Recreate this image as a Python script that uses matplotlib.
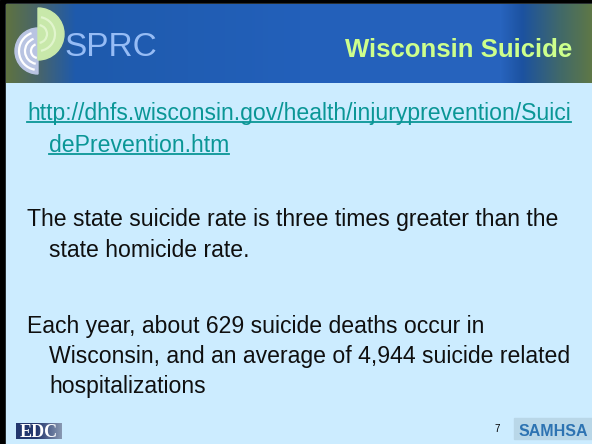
import matplotlib
matplotlib.use('Agg')
import matplotlib.pyplot as plt
import numpy as np
from matplotlib.patches import Rectangle, Wedge, Arc

plt.rcParams['font.family'] = ['Liberation Sans', 'DejaVu Sans']

# slide content
title = 'Wisconsin Suicide'
logo_text = 'SPRC'
link_lines = ['http://dhfs.wisconsin.gov/health/injuryprevention/Suici',
              'dePrevention.htm']
para1 = ['The state suicide rate is three times greater than the',
         'state homicide rate.']
para2 = ['Each year, about 629 suicide deaths occur in',
         'Wisconsin, and an average of 4,944 suicide related',
         'hospitalizations']
page_no = '7'
footer_left = 'EDC'
footer_right = 'SAMHSA'

# header gradient colour stops (x position, rgb)
grad_x = [6, 40, 75, 300, 500, 522, 560, 592]
grad_rgb = [(95, 115, 65), (70, 100, 110), (30, 90, 172), (35, 96, 186),
            (40, 100, 190), (28, 82, 160), (65, 105, 105), (95, 120, 70)]

W, H = 592, 444
fig = plt.figure(figsize=(W / 100, H / 100), dpi=100)
ax = fig.add_axes([0, 0, 1, 1])
ax.set_xlim(0, W)
ax.set_ylim(H, 0)
ax.axis('off')

def c(rgb):
    return tuple(v / 255 for v in rgb)

# black frame + light blue slide
ax.add_patch(Rectangle((0, 0), W, H, color='black', zorder=0))
ax.add_patch(Rectangle((6, 4), W - 6, H - 4, color=c((204, 236, 255)), zorder=1))

# header band
xs = np.arange(6, W)
gx = np.array(grad_x)
band = np.stack([np.interp(xs, gx, [g[i] for g in grad_rgb]) for i in range(3)], axis=-1) / 255
ax.imshow(band[None, :, :], extent=(6, W, 83, 4), aspect='auto', zorder=2)

# logo
ax.add_patch(Wedge((38, 51), 23, 90, 270, color=c((185, 196, 226)), zorder=3))
ax.add_patch(Wedge((38, 34), 26, -90, 90, color=c((200, 232, 170)), zorder=3))
for r in [7, 13, 19]:
    ax.add_patch(Arc((38, 51), 2 * r, 2 * r, theta1=100, theta2=250,
                     color='white', lw=1.6, zorder=4))
for r in [9, 17]:
    ax.add_patch(Arc((38, 34), 2 * r, 2 * r, theta1=-80, theta2=80,
                     color=c((225, 245, 205)), lw=1.6, zorder=4))
ax.text(64, 56, logo_text, fontsize=24, color=c((150, 188, 245)),
        family=['Liberation Sans Narrow', 'Liberation Sans', 'DejaVu Sans'],
        va='baseline', zorder=4)

ax.text(572, 57, title, fontsize=18.5, fontweight='bold', color=c((205, 255, 140)),
        ha='right', va='baseline', zorder=4)

# body text
fs = 16.6
link_col = c((10, 150, 150))
link_pos = [(27, 120), (49, 152)]
links = []
for s, (x, y) in zip(link_lines, link_pos):
    links.append(ax.text(x, y, s, fontsize=fs, color=link_col, va='baseline', zorder=4))

for s, (x, y) in zip(para1, [(27, 226), (49, 257)]):
    ax.text(x, y, s, fontsize=fs, color=c((15, 15, 15)), va='baseline', zorder=4)
for s, (x, y) in zip(para2, [(27, 333), (49, 363), (49, 393)]):
    ax.text(x, y, s, fontsize=fs, color=c((15, 15, 15)), va='baseline', zorder=4)

# underline link
fig.canvas.draw()
inv = ax.transData.inverted()
for t, (x, y) in zip(links, link_pos):
    bb = t.get_window_extent()
    x0 = inv.transform((bb.x0, 0))[0]
    x1 = inv.transform((bb.x1, 0))[0]
    ax.plot([x0, x1], [y + 2.5, y + 2.5], color=link_col, lw=1.3, zorder=4)

# footer
edc = np.stack([np.interp(np.arange(46), [0, 20, 46], [v0, v0, v1])
                for v0, v1 in zip((35, 55, 110), (140, 155, 180))], axis=-1) / 255
ax.imshow(edc[None, :, :], extent=(16, 62, 439, 423), aspect='auto', zorder=3)
ax.text(39, 432, footer_left, fontsize=13, fontweight='bold', color='white',
        family=['Liberation Serif', 'DejaVu Serif'], ha='center', va='center', zorder=4)

ax.text(497, 429, page_no, fontsize=7, color='black', ha='center', va='center', zorder=4)
ax.add_patch(Rectangle((514, 418), 78, 21, color=c((185, 215, 232)), zorder=3))
ax.text(553, 436, footer_right, fontsize=11.5, fontweight='bold', color=c((45, 115, 178)),
        family=['Liberation Sans Narrow', 'Liberation Sans', 'DejaVu Sans'],
        ha='center', va='baseline', zorder=4)

fig.savefig('out.png', dpi=100)
